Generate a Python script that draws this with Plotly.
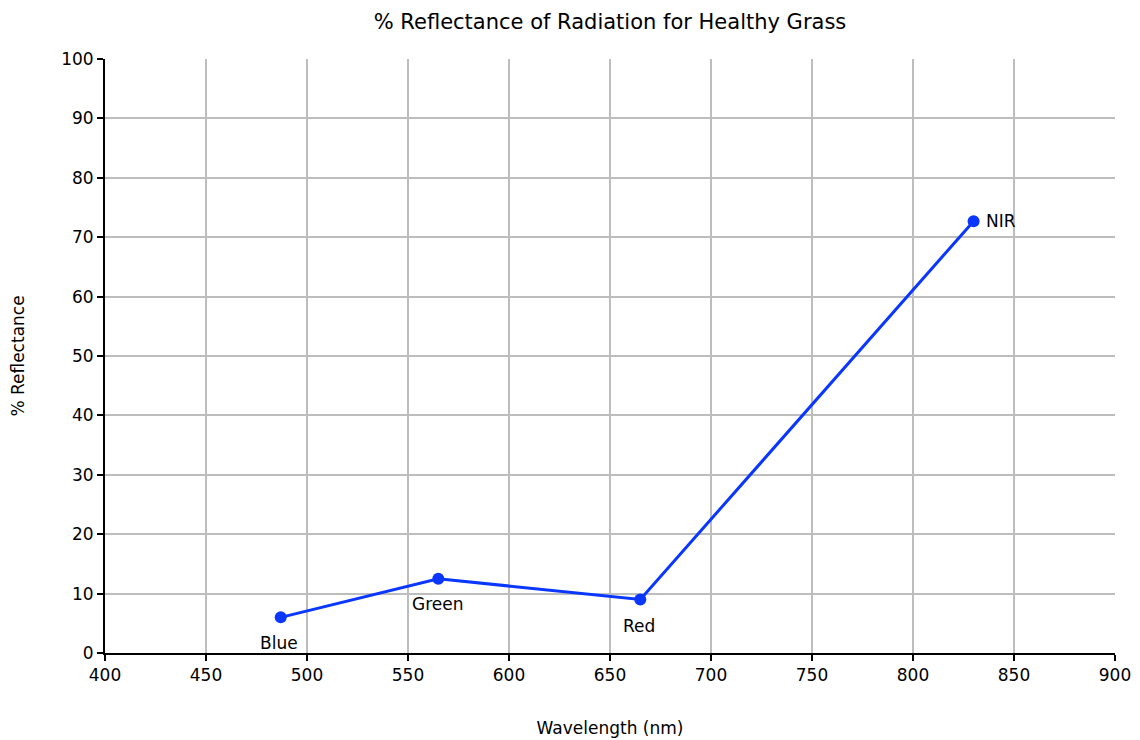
import plotly.graph_objects as go

bands = ["Blue", "Green", "Red", "NIR"]
wavelength = [487, 565, 665, 830]
reflectance = [6.0, 12.5, 9.0, 72.7]
label_shift_x = [-2, -1, -1, 10]
label_shift_y = [-26, -25, -26, 0]

x_ticks = list(range(400, 901, 50))
y_ticks = list(range(0, 101, 10))

font = "DejaVu Sans"
color = "#0a37ff"

fig = go.Figure()
fig.add_trace(go.Scatter(
    x=wavelength, y=reflectance, mode="lines+markers",
    line=dict(color=color, width=3),
    marker=dict(color=color, size=12),
    hoverinfo="skip", showlegend=False,
))

for i, b in enumerate(bands):
    fig.add_annotation(
        x=wavelength[i], y=reflectance[i], text=b, showarrow=False,
        xanchor="left" if b == "NIR" else "center",
        xshift=label_shift_x[i], yshift=label_shift_y[i],
        font=dict(family=font, size=17, color="black"),
    )

axis_common = dict(
    showgrid=True, gridcolor="#bdbdbd", gridwidth=1.5,
    showline=True, linecolor="black", linewidth=2,
    ticks="outside", ticklen=6, tickwidth=2, tickcolor="black",
    zeroline=False, automargin=False,
    tickfont=dict(family=font, size=17, color="black"),
)

fig.update_layout(
    width=1132, height=732,
    paper_bgcolor="white", plot_bgcolor="white",
    margin=dict(l=97, r=25, t=51, b=87),
    title=dict(text="% Reflectance of Radiation for Healthy Grass",
               x=0.5, xanchor="center", xref="paper",
               y=1 - 14 / 732, yanchor="middle", yref="container",
               font=dict(family=font, size=21, color="black")),
    xaxis=dict(range=[400, 900], tickvals=x_ticks,
               title=dict(text="Wavelength (nm)", standoff=38,
                          font=dict(family=font, size=17, color="black")),
               **axis_common),
    yaxis=dict(range=[0, 100], tickvals=y_ticks,
               title=dict(text="% Reflectance", standoff=35,
                          font=dict(family=font, size=17, color="black")),
               **axis_common),
)

fig.write_html("out.html")
